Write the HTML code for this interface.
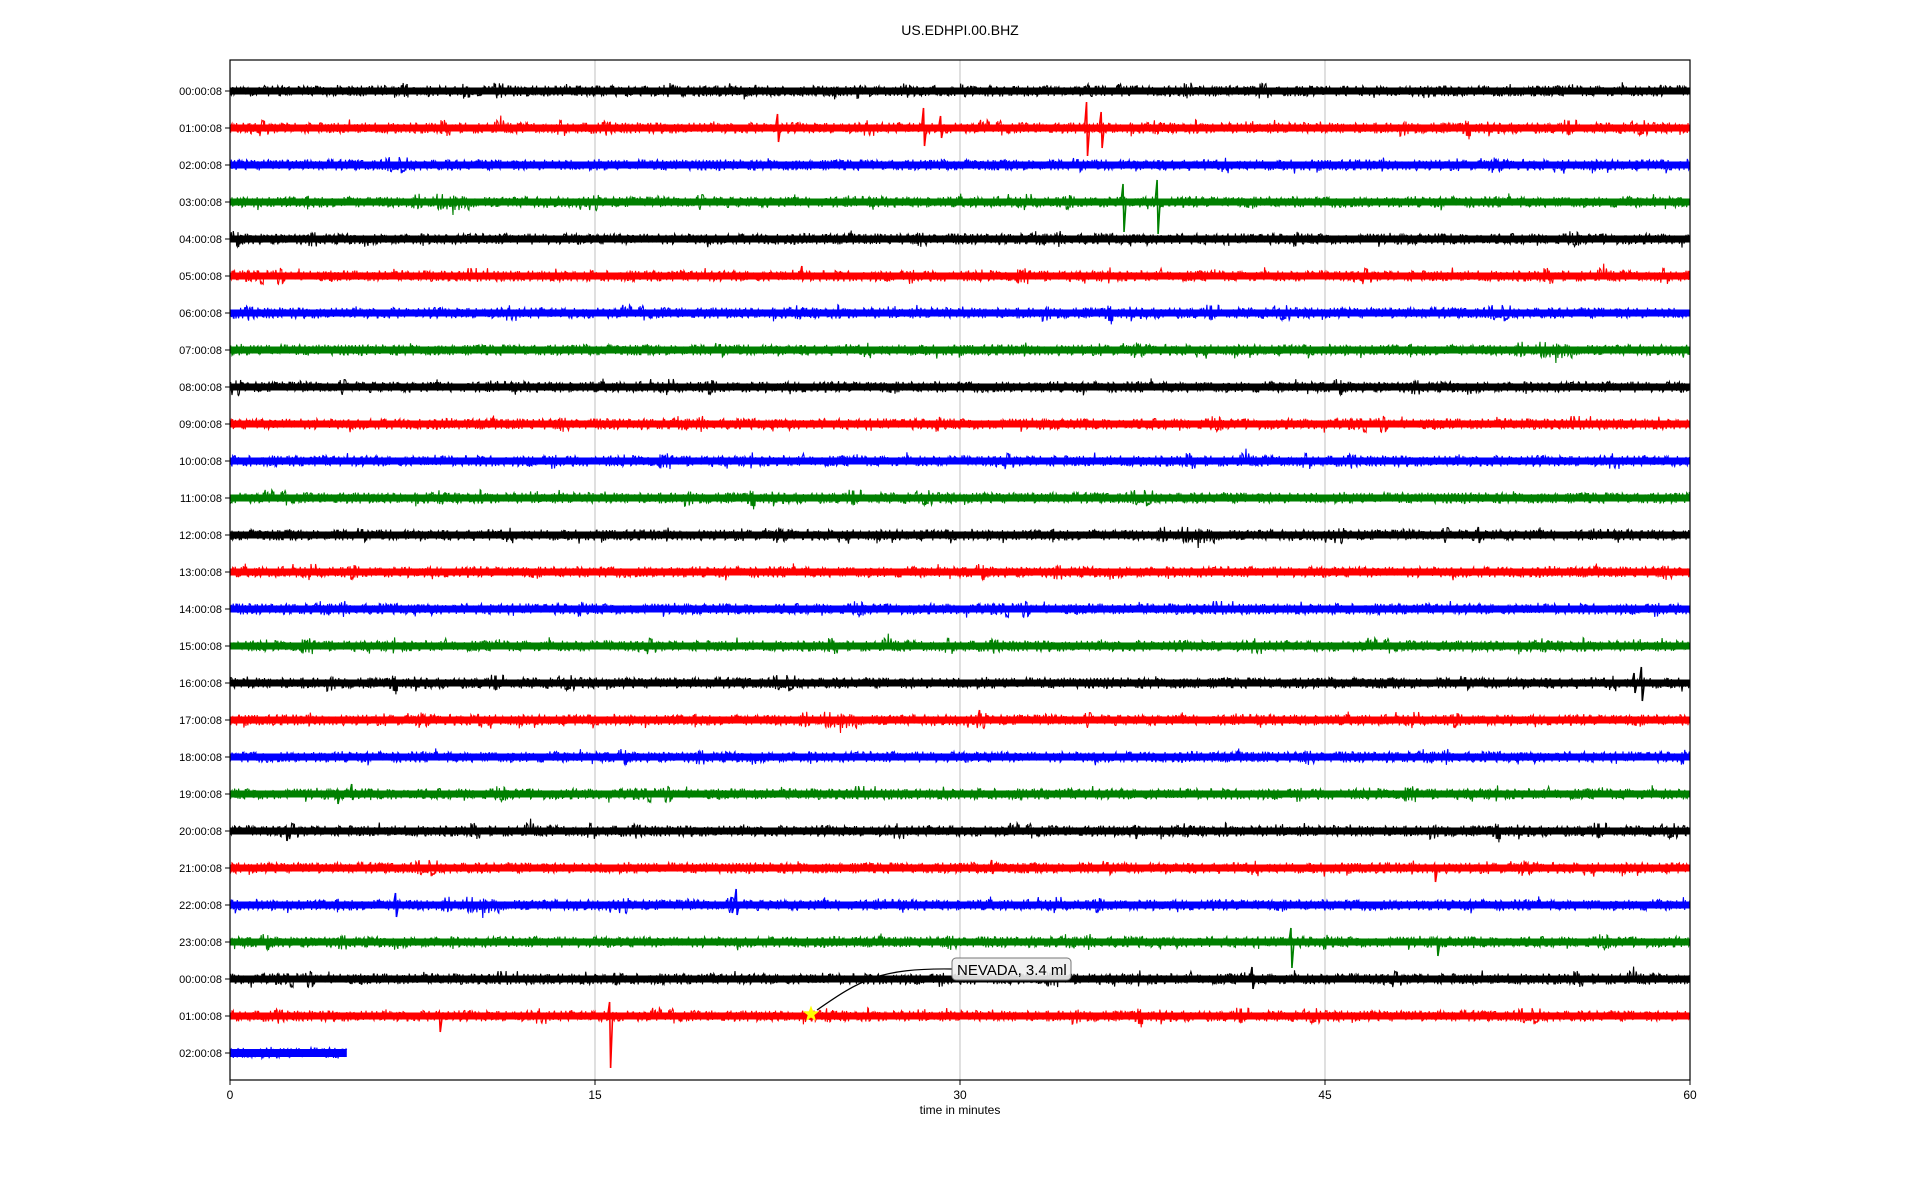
<!DOCTYPE html>
<html><head><meta charset="utf-8"><style>
html,body{margin:0;padding:0;background:#fff;width:1920px;height:1200px;overflow:hidden}
svg{display:block}
text{font-family:"Liberation Sans","DejaVu Sans",sans-serif;fill:#000}
</style></head><body>
<svg id="s" width="1920" height="1200" xmlns="http://www.w3.org/2000/svg">
<text x="960" y="35" font-size="14" text-anchor="middle">US.EDHPI.00.BHZ</text>
<g stroke="#b0b0b0" stroke-width="0.8">
<line x1="595" y1="60" x2="595" y2="1080"/><line x1="960" y1="60" x2="960" y2="1080"/><line x1="1325" y1="60" x2="1325" y2="1080"/>
</g>
<g id="tr"></g>
<rect x="230" y="60" width="1460" height="1020" fill="none" stroke="#000" stroke-width="1.2"/>
<g font-size="12" text-anchor="middle">
<line x1="230" y1="1080" x2="230" y2="1085" stroke="#000"/><text x="230" y="1099">0</text>
<line x1="595" y1="1080" x2="595" y2="1085" stroke="#000"/><text x="595" y="1099">15</text>
<line x1="960" y1="1080" x2="960" y2="1085" stroke="#000"/><text x="960" y="1099">30</text>
<line x1="1325" y1="1080" x2="1325" y2="1085" stroke="#000"/><text x="1325" y="1099">45</text>
<line x1="1690" y1="1080" x2="1690" y2="1085" stroke="#000"/><text x="1690" y="1099">60</text>
<text x="960" y="1114">time in minutes</text>
</g>
<g id="yl" font-size="11" text-anchor="end"></g>
<path d="M817,1010 C860,980 880,968 952,969" fill="none" stroke="#000" stroke-width="1.2"/>
<rect x="952" y="958" width="119" height="22" rx="4" fill="#f0f0f0" fill-opacity="0.9" stroke="#777" stroke-width="1"/>
<text x="957" y="975" font-size="15">NEVADA, 3.4 ml</text>
<polygon id="star" fill="#ffff00" points=""/>
</svg>
<script>
var seed=12345;function r(){seed=(seed*1103515245+12345)%2147483648;return seed/2147483648;}
var cols=["#000","#f00","#00f","#008000"];
var labs=[];for(var i=0;i<27;i++){labs.push(String(i%24).padStart(2,"0")+":00:08");}
var ev={1:[[22.5,14,14],[28.5,20,18],[29.2,12,10],[35.2,26,28],[35.8,16,20]],3:[[36.7,18,30],[38.1,22,32]],
5:[[23.5,10,4]],16:[[58,16,18],[57.7,10,10]],17:[[30.8,10,4],[10.2,6,6]],19:[[5,10,6],[4.4,4,10]],21:[[49.5,4,14],[31.3,8,6]],
22:[[6.8,12,12],[20.8,16,10],[20.6,8,8]],23:[[43.6,14,26],[49.6,4,14]],24:[[42,12,10],[15.8,6,6]],25:[[15.6,14,52],[8.6,4,16]],
0:[[21.6,6,4],[58.8,6,4]],12:[[51.3,8,8]],20:[[37.2,6,8],[2.3,4,10]]};
var g=document.getElementById("tr"),yl=document.getElementById("yl"),h="",lh="";
for(var i=0;i<27;i++){
 var y0=91+i*37,c=cols[i%4],end=(i==26)?4.8:60,N=Math.round(end/60*2200);
 var pts=[],burst=0;
 for(var k=0;k<=N;k++){var x=230+k*1460/2200;if(r()<0.004)burst=15;var a=(r()-0.5)*11;if(burst>0){a*=1.5;burst--;}if(r()<0.02)a*=1.6;pts.push(x.toFixed(1)+","+(y0+a).toFixed(1));}
 h+='<polyline fill="none" stroke="'+c+'" stroke-width="1.1" points="'+pts.join(" ")+'"/>';
 if(i==26)h+='<rect x="230" y="'+(y0-4)+'" width="'+(4.8/60*1460)+'" height="8" fill="'+c+'"/>';
 else h+='<rect x="230" y="'+(y0-3.5)+'" width="1460" height="7" fill="'+c+'"/>';
 (ev[i]||[]).forEach(function(e){var x=230+e[0]/60*1460;h+='<polyline fill="none" stroke="'+c+'" stroke-width="1.6" points="'+(x-2)+','+y0+' '+x+','+(y0-e[1])+' '+(x+1)+','+(y0+e[2])+' '+(x+3)+','+y0+'"/>';});
 lh+='<line x1="225" y1="'+y0+'" x2="230" y2="'+y0+'" stroke="#000"/><text x="222" y="'+(y0+4)+'">'+labs[i]+'</text>';
}
g.innerHTML=h;yl.innerHTML=lh;
var sp=[],cx=811,cy=1014;for(var k=0;k<10;k++){var ang=-Math.PI/2+k*Math.PI/5,rr=k%2?3.5:8.5;sp.push((cx+rr*Math.cos(ang)).toFixed(1)+","+(cy+rr*Math.sin(ang)).toFixed(1));}
document.getElementById("star").setAttribute("points",sp.join(" "));
</script>
</body></html>
